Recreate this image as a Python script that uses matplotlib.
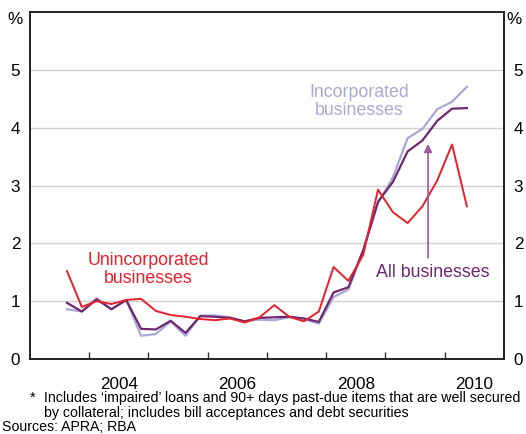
import numpy as np
import matplotlib
matplotlib.use("Agg")
import matplotlib.pyplot as plt

plt.rcParams['font.family'] = ['Liberation Sans', 'DejaVu Sans']

# quarterly observations, first one in late 2003
start = 2003.625
unincorporated = [1.52, 0.90, 1.00, 0.95, 1.02, 1.04, 0.83, 0.76, 0.73, 0.69,
                  0.67, 0.70, 0.63, 0.72, 0.93, 0.73, 0.65, 0.82, 1.59, 1.35,
                  1.80, 2.93, 2.54, 2.35, 2.64, 3.09, 3.71, 2.64]
all_bus = [0.97, 0.82, 1.03, 0.86, 1.02, 0.52, 0.51, 0.66, 0.45, 0.74,
           0.73, 0.71, 0.65, 0.71, 0.72, 0.73, 0.70, 0.64, 1.15, 1.24,
           1.88, 2.72, 3.06, 3.59, 3.78, 4.12, 4.33, 4.34]
incorporated = [0.86, 0.82, 1.05, 0.86, 1.02, 0.40, 0.43, 0.65, 0.40, 0.75,
                0.75, 0.72, 0.65, 0.68, 0.67, 0.72, 0.69, 0.61, 1.07, 1.20,
                1.88, 2.70, 3.14, 3.82, 3.98, 4.32, 4.45, 4.71]
years = [2004, 2006, 2008, 2010]

q = start + 0.25 * np.arange(len(unincorporated))

RED = '#e8202a'
PURPLE = '#6e2870'
LAV = '#aaa8d6'

fig = plt.figure(figsize=(5.26, 4.34), dpi=100)
ax = fig.add_axes([0.057, 0.173, 0.901, 0.799])

ax.plot(q, incorporated, color=LAV, lw=1.6)
ax.plot(q, all_bus, color=PURPLE, lw=1.6)
ax.plot(q, unincorporated, color=RED, lw=1.4)

ax.set_xlim(2003, 2011)
ax.set_ylim(0, 6)
ax.set_yticks([0, 1, 2, 3, 4, 5])
ax.grid(axis='y', color='#d0d0d0', lw=1)
ax.set_axisbelow(True)

ax.set_xticks(np.arange(2004, 2011), minor=False)
ax.set_xticklabels([])
ax.set_xticks([y + 0.5 for y in years], minor=True)
ax.set_xticklabels([str(y) for y in years], minor=True, fontsize=12.3)
ax.tick_params(axis='x', which='major', direction='in', length=5, width=1, color='#333333')
ax.tick_params(axis='x', which='minor', length=0, pad=13)

ax.tick_params(axis='y', which='both', length=0, labelsize=12.3,
               left=True, right=True, labelleft=True, labelright=True, pad=7)
for s in ax.spines.values():
    s.set_linewidth(1.4)
    s.set_color('#222222')

fig.text(0.028, 0.955, '%', fontsize=12.3, ha='center', va='center')
fig.text(0.978, 0.955, '%', fontsize=12.3, ha='center', va='center')

ax.text(2005.0, 1.55, 'Unincorporated\nbusinesses', color=RED, fontsize=12.8,
        ha='center', va='center', linespacing=1.05)
ax.text(2008.55, 4.45, 'Incorporated\nbusinesses', color=LAV, fontsize=12.8,
        ha='center', va='center', linespacing=1.05)
ax.text(2009.8, 1.5, 'All businesses', color=PURPLE, fontsize=12.8,
        ha='center', va='center')
ax.annotate('', xy=(2009.72, 3.72), xytext=(2009.72, 1.75),
            arrowprops=dict(arrowstyle='-|>', color='#9a5c9a', lw=1.2,
                            mutation_scale=12, shrinkA=0, shrinkB=0))

fs = 10.2
fig.text(0.057, 0.083, '*', fontsize=fs, va='center')
fig.text(0.084, 0.083, 'Includes \u2018impaired\u2019 loans and 90+ days past-due items that are well secured',
         fontsize=fs, va='center')
fig.text(0.084, 0.049, 'by collateral; includes bill acceptances and debt securities',
         fontsize=fs, va='center')
fig.text(0.004, 0.015, 'Sources: APRA; RBA', fontsize=fs, va='center')

fig.savefig('out.png', dpi=100)
